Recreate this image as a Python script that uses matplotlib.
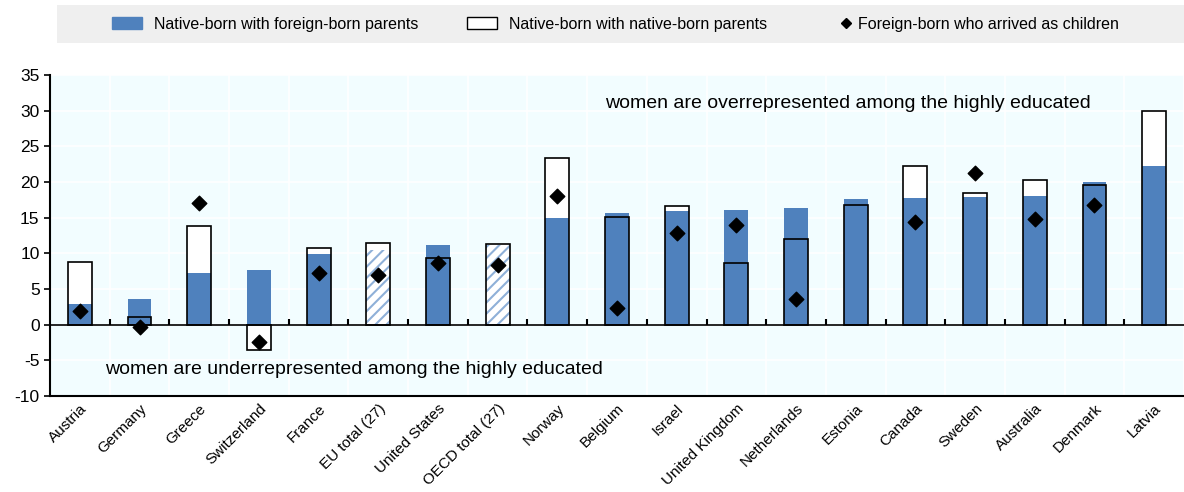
import numpy as np
import matplotlib
matplotlib.use("Agg")
import matplotlib.pyplot as plt
from matplotlib.patches import Patch, Rectangle
from matplotlib.lines import Line2D

plt.rcParams['font.family'] = ['Liberation Sans', 'DejaVu Sans']
plt.rcParams['hatch.linewidth'] = 1.5

countries = ["Austria", "Germany", "Greece", "Switzerland", "France", "EU total (27)",
             "United States", "OECD total (27)", "Norway", "Belgium", "Israel",
             "United Kingdom", "Netherlands", "Estonia", "Canada", "Sweden",
             "Australia", "Denmark", "Latvia"]
# Native-born with foreign-born parents
foreign_parents = [2.9, 3.6, 7.3, 7.7, 9.9, 10.4, 11.2, 11.2, 15.0, 15.6, 16.0,
                   16.1, 16.3, 17.6, 17.8, 17.9, 18.0, 20.0, 22.2]
# Native-born with native-born parents
native_parents = [8.8, 1.1, 13.8, -3.6, 10.7, 11.4, 9.4, 11.3, 23.4, 15.1, 16.7,
                  8.6, 12.0, 16.8, 22.3, 18.4, 20.3, 19.6, 30.0]
# Foreign-born who arrived as children (nan = not shown)
arrived_children = [1.9, -0.3, 17.0, -2.5, 7.3, 7.0, 8.6, 8.4, 18.0, 2.3, 12.9,
                    14.0, 3.6, np.nan, 14.4, 21.3, 14.8, 16.8, np.nan]
totals = ["EU total (27)", "OECD total (27)"]

blue = "#4f81bd"
x = np.arange(len(countries))
w = 0.4

fig = plt.figure(figsize=(11.84, 4.92), dpi=100)
ax = fig.add_axes([50 / 1184, 96 / 492, 1134 / 1184, 321 / 492])
ax.set_facecolor("#f2fdff")

# white background bars for native-born parents
ax.bar(x, native_parents, w, color="white", zorder=2)
# foreign-born parents bars (hatched for totals)
for i, c in enumerate(countries):
    if c in totals:
        ax.bar(x[i], foreign_parents[i], w, color="white", edgecolor="#8fb0d8",
               hatch="///", linewidth=0, zorder=3)
    else:
        ax.bar(x[i], foreign_parents[i], w, color=blue, zorder=3)
# outline of native-born parents bars on top
ax.bar(x, native_parents, w, facecolor="none", edgecolor="black", linewidth=1.2, zorder=4)
ax.scatter(x, arrived_children, marker="D", s=55, color="black", zorder=5)

ax.axhline(0, color="black", linewidth=1.2, zorder=4)
ax.vlines(np.arange(0.5, len(countries) - 1), 0, 0.8, color="black", linewidth=1.5, zorder=4)

ax.set_xlim(-0.5, 18.4)
ax.set_ylim(-10, 35)
ax.set_yticks(np.arange(-10, 36, 5))
ax.set_yticklabels([str(v) for v in range(-10, 36, 5)], fontsize=12.5)
ax.set_xticks(x)
ax.set_xticklabels(countries, rotation=45, ha="right", rotation_mode="anchor", fontsize=11)
ax.tick_params(axis="x", length=0, pad=4)
ax.tick_params(axis="y", length=4, width=1.2)

ax.set_xticks(np.arange(0.5, len(countries)), minor=True)
ax.tick_params(axis="x", which="minor", length=0)
ax.grid(axis="x", which="minor", color="white", linewidth=1.2, zorder=0)
ax.grid(axis="y", which="major", color="white", linewidth=1.2, zorder=0)
ax.set_axisbelow(True)

for s in ["top", "right"]:
    ax.spines[s].set_visible(False)
ax.spines["left"].set_linewidth(1.5)
ax.spines["bottom"].set_linewidth(1.5)

ax.text(8.8, 31.0, "women are overrepresented among the highly educated", fontsize=14,
        va="center", zorder=6)
ax.text(0.43, -6.3, "women are underrepresented among the highly educated", fontsize=14,
        va="center", zorder=6)

# legend: grey band with three entries
fig.patches.append(Rectangle((57 / 1184, 1 - 43 / 492), 1 - 57 / 1184, 38 / 492,
                             transform=fig.transFigure, facecolor="#efefef",
                             edgecolor="none", zorder=0))
entries = [
    (Patch(facecolor=blue, edgecolor=blue), "Native-born with foreign-born parents", 112, 1.85, 0.8),
    (Patch(facecolor="white", edgecolor="black"), "Native-born with native-born parents", 467, 1.85, 0.8),
    (Line2D([], [], marker="D", color="black", linestyle="none", markersize=5),
     "Foreign-born who arrived as children", 840, 0.8, 0.3),
]
for handle, label, xpix, hl, tp in entries:
    leg = fig.legend([handle], [label], loc="center left",
                     bbox_to_anchor=(xpix / 1184, 1 - 24 / 492), frameon=False,
                     fontsize=11.5, handlelength=hl, handletextpad=tp,
                     borderpad=0, borderaxespad=0)

fig.savefig("out.png", dpi=100)
